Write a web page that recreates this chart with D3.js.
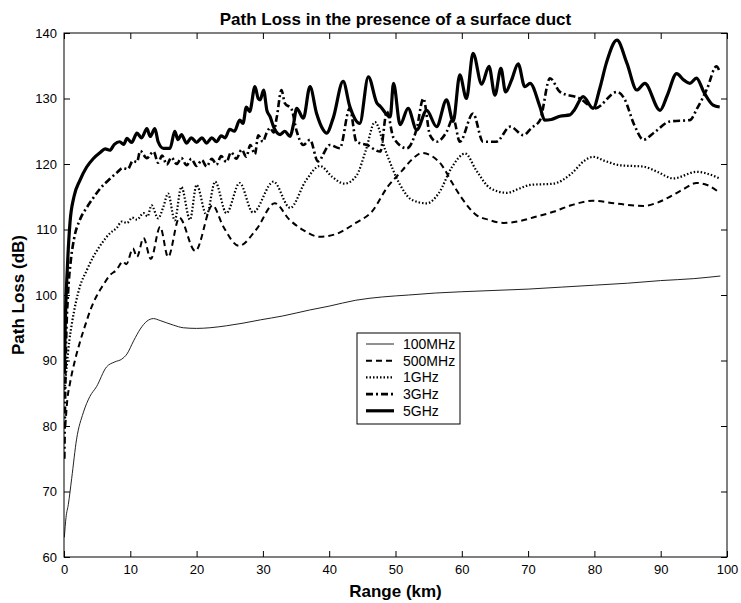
<!DOCTYPE html>
<html>
<head>
<meta charset="utf-8">
<script src="https://cdn.jsdelivr.net/npm/d3@7"></script>
<style>
  body { margin: 0; background: #fff; }
  text { font-family: "Liberation Sans", Arial, sans-serif; }
  .axis path { display: none; }
  .axis line { stroke: #000; }
  .axis text { font-size: 13px; fill: #000; }
</style>
</head>
<body>
<div id="chart"></div>
<script>
// values: [range km, path loss dB]
var loss100MHz = [[0.05,63],[0.3,66],[0.65,68],[1.16,72],[1.9,78],[2.9,82],[3.9,84.5],[4.9,86],[6.4,89],[7.7,89.8],[8.7,90.2],[9.5,91],[10.5,93],[11.5,94.8],[12.5,96],[13.5,96.4],[14.5,96.1],[16.5,95.4],[18,95],[20,94.9],[22,95],[24.5,95.3],[27,95.7],[29.6,96.2],[33,96.8],[37,97.7],[40,98.3],[44,99.2],[48,99.7],[52,100],[56,100.3],[60,100.5],[65,100.7],[70,100.9],[75,101.2],[80,101.5],[85,101.8],[90,102.2],[95,102.5],[99,102.9]];

var loss500MHz = [[0.2,80],[0.5,84],[0.9,86.5],[1.7,90.2],[2.4,92.8],[3.4,96],[3.9,97.5],[5,100],[5.9,101.5],[6.9,103],[7.9,103.8],[8.9,105.1],[9.4,104.7],[10.4,107.1],[11,105.8],[12,108.7],[13.1,105.5],[14.5,110.4],[15.7,105.8],[17.4,111.8],[19.8,106.7],[22.4,113.7],[24,110.5],[26.4,107.5],[29,110],[31.8,114],[34,111.5],[36.1,109.9],[38.5,108.9],[41,109.3],[44,111],[46.5,112.8],[48.8,116.5],[51,119],[52.5,120.7],[54,121.7],[55.5,121.2],[57,119.8],[58.5,117.2],[60,114.8],[62.2,112.2],[64,111.5],[66.3,111],[68.8,111.3],[71,111.9],[73.8,112.7],[76.5,113.7],[79.8,114.4],[83,114],[87.4,113.6],[89.5,114.1],[91.4,115],[93.5,116.2],[95.4,117.1],[97,116.8],[98.9,115.6]];

var loss1GHz = [[0.05,85],[0.4,89],[0.8,93],[1.2,95.7],[2.4,101.3],[3.4,103.7],[4.4,105.8],[5.5,107.6],[6.9,109.4],[8,110.3],[8.7,111.2],[9.5,111],[10.3,111.8],[11,111.5],[12,112.5],[12.6,112],[13.2,113.7],[14.2,111.7],[15,113.5],[15.7,115.5],[16.7,111.4],[17.7,116.5],[19,111.5],[20,116.8],[21.5,112.2],[22.8,117.3],[24.5,112.5],[26.5,117.1],[28.5,112.6],[31.6,117.3],[34.1,113.3],[36.5,117.5],[38.6,119.7],[40.5,118],[42.3,117],[44.1,118.2],[45.5,122],[46.9,126.4],[48.5,122],[50.7,116.8],[52.5,114.5],[54.7,114],[56.5,115.5],[58.5,119.5],[60.5,121.6],[62.2,119],[64.3,116.3],[66.8,115.6],[68.8,116.3],[70.3,116.8],[73.8,117],[76.5,118.5],[78.5,120.5],[79.8,121.1],[81.5,120.5],[83.9,119.8],[87.4,119.6],[89.5,118.8],[91.9,117.8],[95.4,118.8],[98.9,117.8]];

var loss3GHz = [[0.05,75],[0.3,92],[0.6,100],[1,105],[1.5,108.5],[2.4,111.5],[3.4,113.3],[4.4,114.8],[5.5,116.3],[6.9,117.7],[8,118.7],[8.9,119.4],[9.6,119.2],[10.4,120.5],[11,120.3],[11.5,122],[12.5,120.9],[13.5,121.9],[14.2,120.2],[14.8,121.3],[15.5,119.9],[16.2,121],[17,120],[17.7,120.9],[18.5,119.8],[19.2,120.8],[20,119.7],[20.8,120.6],[21.5,119.6],[22.3,120.8],[23,119.9],[23.7,121.2],[24.5,120.3],[25.2,121.8],[26,120.8],[26.8,122.2],[27.5,121.1],[28.1,122.9],[28.8,121.5],[29.3,124.4],[30,123.4],[30.5,124.6],[31.1,125.5],[31.6,124.8],[32.1,127.2],[32.8,131.3],[33.3,129.3],[34.3,128.4],[35.1,125],[36.1,122.9],[37.1,123.7],[38.3,120.4],[40.1,122.9],[41.6,122.4],[43.1,128.5],[44.1,123.4],[45.7,122.9],[47.7,121.9],[48.7,128],[49.7,124],[51.7,122.4],[53.2,125.4],[54.2,130],[55.2,124.4],[56.2,123.4],[57.7,124.9],[58.7,127],[59.7,123.4],[61.7,127.7],[63.2,123.4],[65.2,123.4],[67.3,125.7],[69.3,124.4],[70.5,125.5],[71.8,126.7],[73.3,133.1],[74.8,131],[77.8,130],[80.1,128.5],[83.4,131],[84.5,130],[86,126],[87.4,123.7],[89,124.8],[91.4,126.5],[94.4,126.7],[95.5,128.5],[97,131.5],[98.4,134.9],[98.9,134.1]];

var loss5GHz = [[0.05,88],[0.2,96],[0.5,104],[0.9,111],[1.5,115],[2.4,117.5],[3.4,119.5],[4.4,120.8],[5.5,121.8],[6.2,122.3],[6.9,122.1],[7.6,123],[8.4,123.4],[9,123],[9.5,123.9],[10.2,123.3],[11,124.7],[11.7,124],[12.5,125.4],[13,124.2],[13.7,125.4],[14.2,123.4],[15,122.4],[16,122.4],[16.7,125],[17.2,123.7],[17.7,124.5],[18.5,123.2],[19.2,124],[20,123.3],[20.8,124],[21.5,123.2],[22.3,124],[23,123.4],[23.7,124.3],[24.3,124],[25,125.3],[25.7,125],[26.5,126.7],[27,126.2],[27.5,128.7],[28,128],[28.8,131.8],[29.3,130],[29.6,129.8],[30.1,131.3],[30.6,128.2],[31.1,127.2],[31.6,125.7],[32.6,124.5],[33.3,125],[34.1,124.2],[34.6,126],[35.1,128.5],[36.1,127],[37.1,131.8],[38.1,127.7],[39.1,125.2],[39.6,124.7],[40.6,127],[42.1,132.6],[43.1,128.8],[44.6,126.2],[45.9,133.3],[47.2,129.3],[47.7,128.8],[49.2,127.2],[49.7,132.3],[50.7,126],[51.9,128.5],[53.2,125.2],[54.7,128.2],[56.2,125.7],[57.7,129.8],[58.7,126.5],[59.7,133.6],[60.7,130],[61.7,136.9],[63,132.2],[64.1,134.9],[65,130.5],[65.9,134.6],[66.6,131],[67.5,132.8],[68.5,135.3],[69.5,131.8],[70.3,132.3],[71.8,128.7],[72.5,126.7],[73.5,126.8],[74.8,127.3],[76.3,127.5],[77,128.3],[78.3,130.3],[79.8,128.5],[80.8,131.5],[81.8,135.4],[83.4,138.9],[84.9,135.4],[86.4,131.3],[87.6,132.3],[89.9,128.2],[91,130.5],[92.4,133.8],[93.5,132.8],[94.4,132.3],[95.4,133.1],[96.5,131],[97.9,129],[98.9,128.7]];

var seriesNames = ["100MHz", "500MHz", "1GHz", "3GHz", "5GHz"];
var seriesData = [loss100MHz, loss500MHz, loss1GHz, loss3GHz, loss5GHz];
var xTicks = [0, 10, 20, 30, 40, 50, 60, 70, 80, 90, 100];
var yTicks = [60, 70, 80, 90, 100, 110, 120, 130, 140];

// line styles, same order as seriesNames
var styles = [
    { width: 1, dash: null, color: "#222" },
    { width: 2, dash: "6,4", color: "#000" },
    { width: 2.2, dash: "1.5,2", color: "#000" },
    { width: 2.6, dash: "7,3,2,3", color: "#000" },
    { width: 3.2, dash: null, color: "#000" }
];

var margin = { top: 33, right: 14, bottom: 46, left: 64 },
    width = 741 - margin.left - margin.right,
    height = 603 - margin.top - margin.bottom;

var svg = d3.select("#chart")
    .append("svg")
    .attr("width", 741)
    .attr("height", 603)
    .append("g")
    .attr("transform", "translate(" + margin.left + "," + margin.top + ")");

var x = d3.scaleLinear().domain([0, 100]).range([0, width]);
var y = d3.scaleLinear().domain([60, 140]).range([height, 0]);

svg.append("defs").append("clipPath")
    .attr("id", "plot-clip")
    .append("rect")
    .attr("width", width)
    .attr("height", height);

var line = d3.line()
    .x(function(d) { return x(d[0]); })
    .y(function(d) { return y(d[1]); })
    .curve(d3.curveMonotoneX);

var lines = svg.append("g").attr("clip-path", "url(#plot-clip)");
seriesData.forEach(function(data, i) {
    lines.append("path")
        .datum(data)
        .attr("fill", "none")
        .attr("stroke", styles[i].color)
        .attr("stroke-width", styles[i].width)
        .attr("stroke-dasharray", styles[i].dash)
        .attr("stroke-linejoin", "round")
        .attr("d", line);
});

// frame and inward ticks on all four sides
svg.append("rect")
    .attr("width", width)
    .attr("height", height)
    .attr("fill", "none")
    .attr("stroke", "#000")
    .attr("stroke-width", 1);

svg.append("g").attr("class", "axis")
    .attr("transform", "translate(0," + height + ")")
    .call(d3.axisBottom(x).tickValues(xTicks).tickSize(-6).tickPadding(8));
svg.append("g").attr("class", "axis")
    .call(d3.axisTop(x).tickValues(xTicks).tickSize(-6).tickFormat(""));
svg.append("g").attr("class", "axis")
    .call(d3.axisLeft(y).tickValues(yTicks).tickSize(-6).tickPadding(7));
svg.append("g").attr("class", "axis")
    .attr("transform", "translate(" + width + ",0)")
    .call(d3.axisRight(y).tickValues(yTicks).tickSize(-6).tickFormat(""));

// titles
svg.append("text")
    .attr("x", width / 2)
    .attr("y", -8)
    .attr("text-anchor", "middle")
    .style("font-size", "17px")
    .style("font-weight", "bold")
    .text("Path Loss in the presence of a surface duct");

svg.append("text")
    .attr("x", width / 2)
    .attr("y", height + 40)
    .attr("text-anchor", "middle")
    .style("font-size", "17px")
    .style("font-weight", "bold")
    .text("Range (km)");

svg.append("text")
    .attr("transform", "translate(-40," + (height / 2) + ") rotate(-90)")
    .attr("text-anchor", "middle")
    .style("font-size", "17px")
    .style("font-weight", "bold")
    .text("Path Loss (dB)");

// legend
var legend = svg.append("g")
    .attr("transform", "translate(" + (357 - margin.left) + "," + (333 - margin.top) + ")");

legend.append("rect")
    .attr("width", 103)
    .attr("height", 91)
    .attr("fill", "#fff")
    .attr("stroke", "#000")
    .attr("stroke-width", 1);

seriesNames.forEach(function(name, i) {
    var ly = 11 + i * 16.7;
    legend.append("line")
        .attr("x1", 9).attr("x2", 37)
        .attr("y1", ly).attr("y2", ly)
        .attr("stroke", styles[i].color)
        .attr("stroke-width", styles[i].width)
        .attr("stroke-dasharray", styles[i].dash);
    legend.append("text")
        .attr("x", 46)
        .attr("y", ly + 5)
        .style("font-size", "14px")
        .text(name);
});
</script>
</body>
</html>
